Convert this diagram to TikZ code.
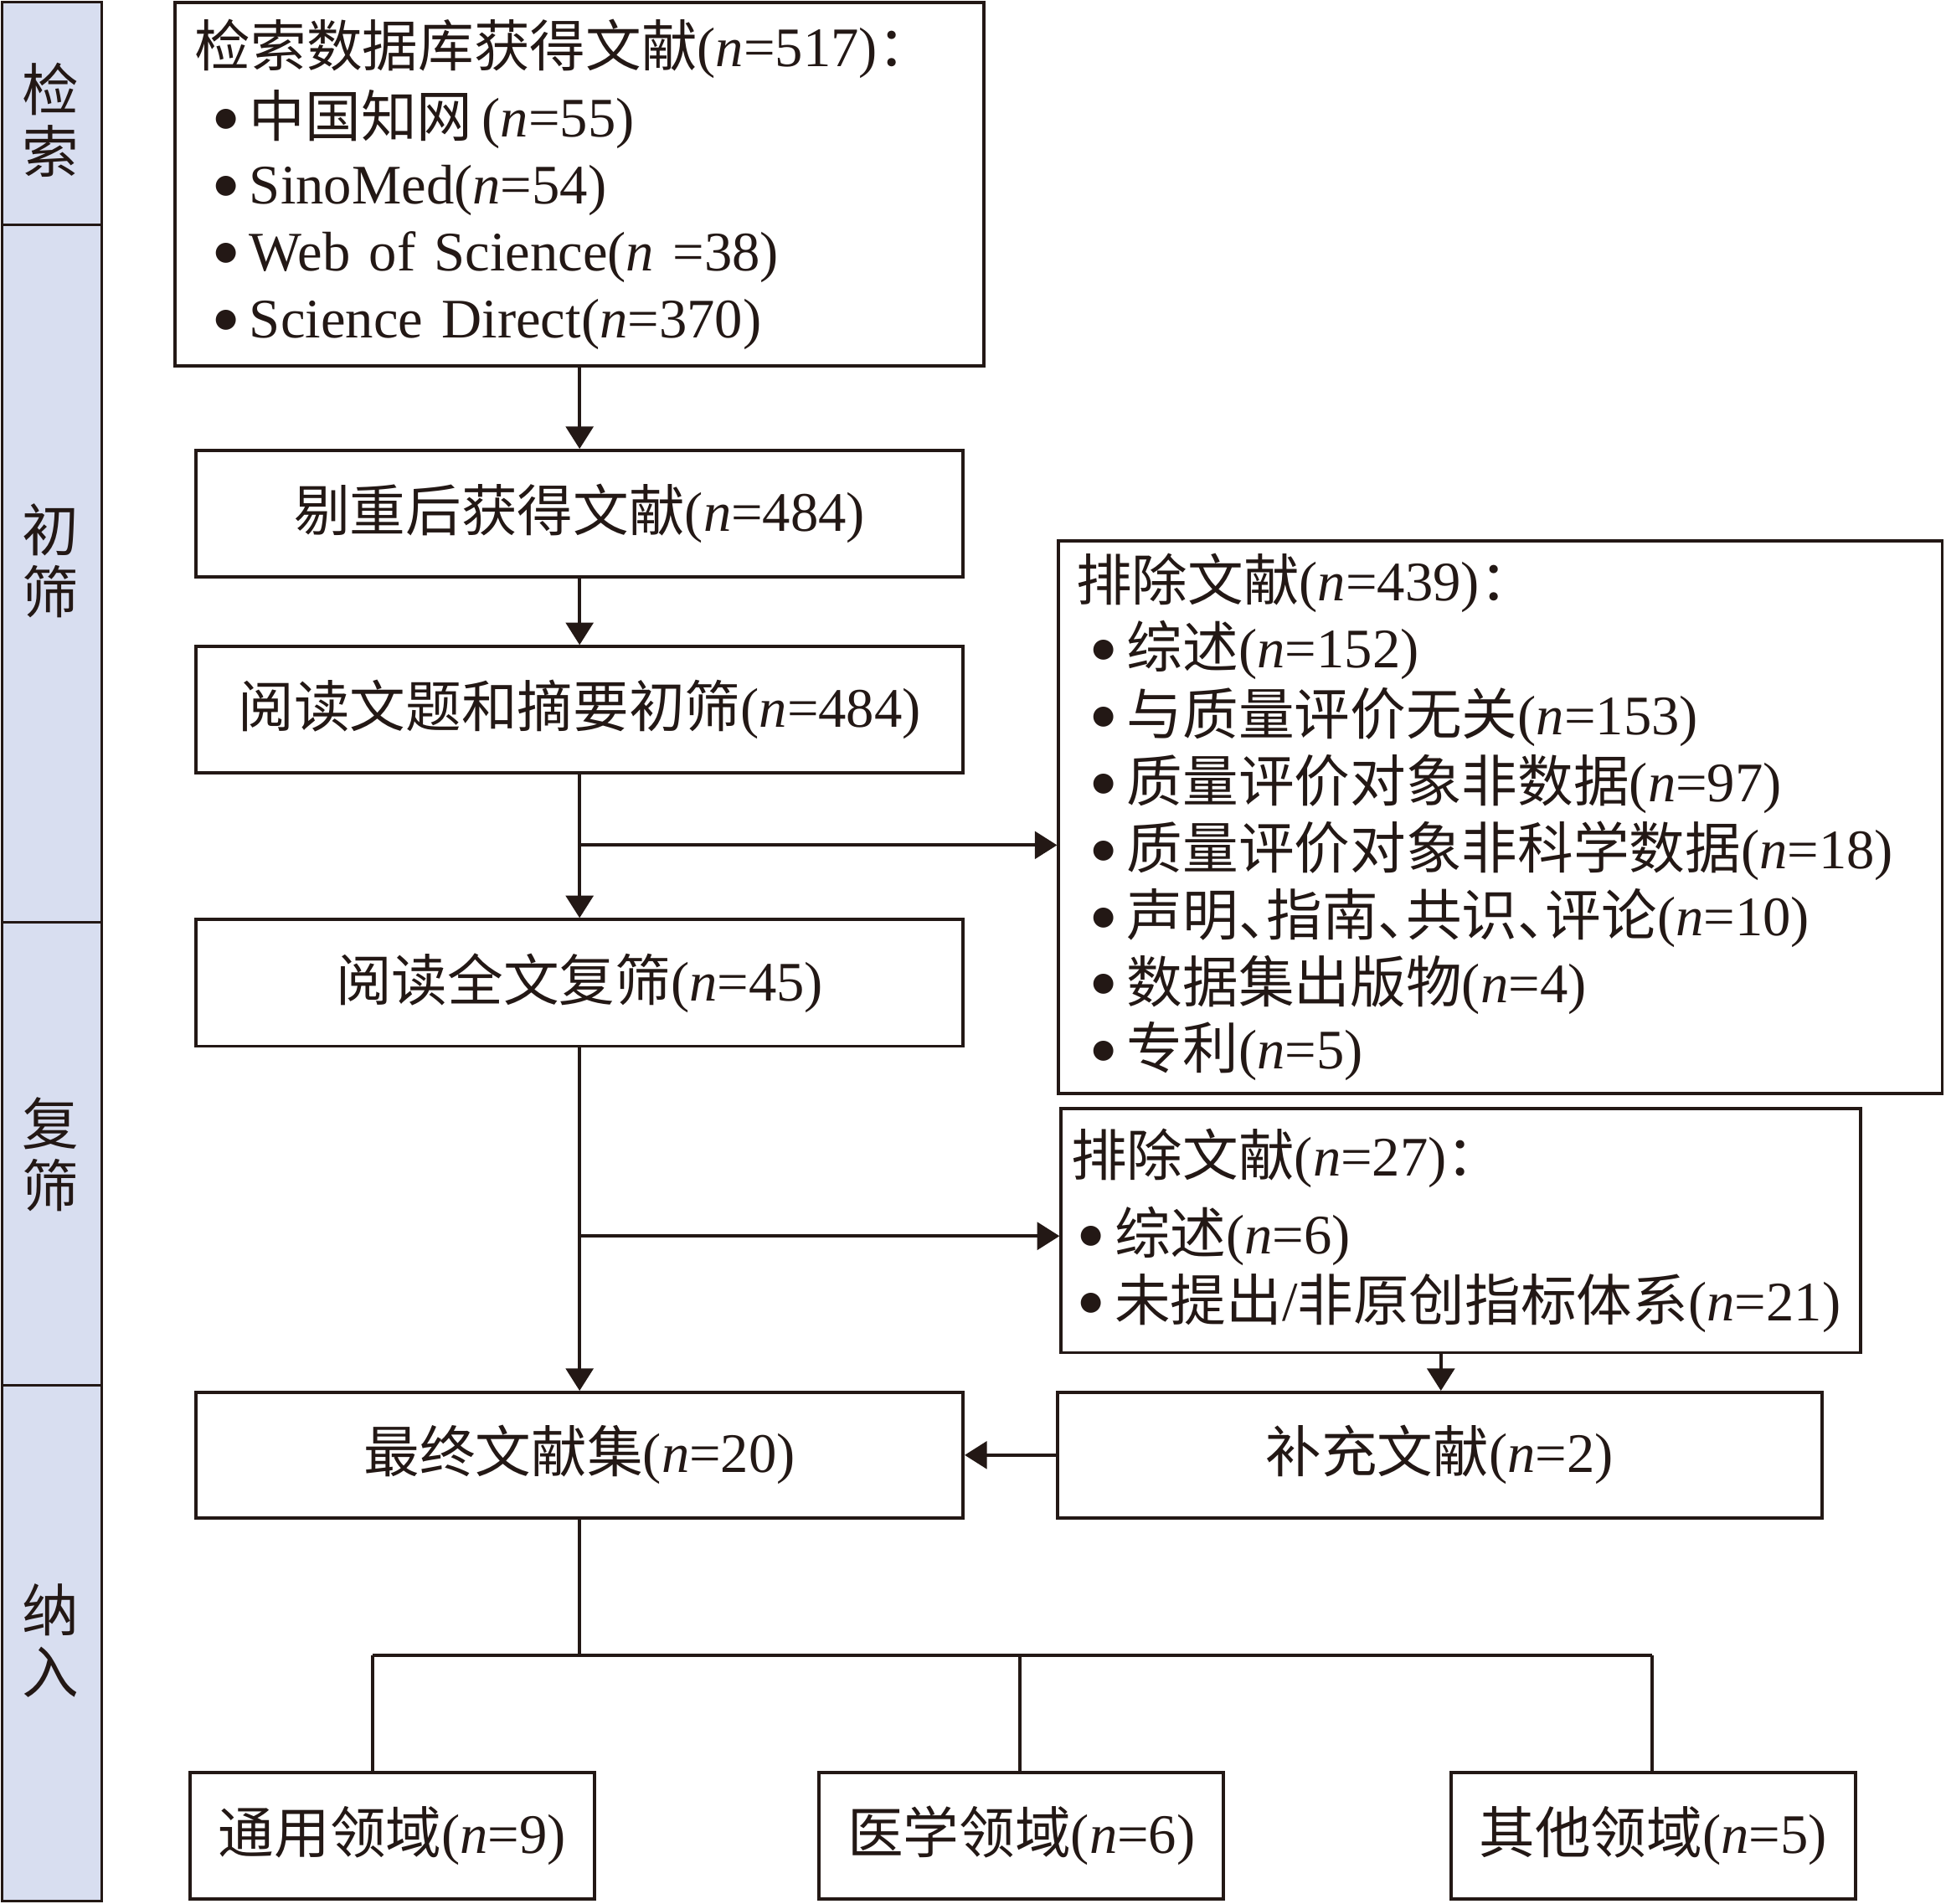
\documentclass[tikz,border=0pt]{standalone}
\usepackage{fontspec}
\setmainfont{Liberation Serif}
\newfontfamily\cjk{Noto Sans CJK SC}
\newfontfamily\dvs{DejaVu Sans}
\usetikzlibrary{arrows.meta,calc}
\definecolor{ink}{RGB}{35,24,21}
\definecolor{side}{RGB}{216,222,240}
\newcommand\vn{\textit{n}}
\newcommand\zh[1]{{\cjk #1}}
\newcommand\dun{\makebox[0.5em][l]{\cjk 、}}
\newcommand\bul[1]{\hspace*{#1}\makebox[0.56cm][l]{\raisebox{5pt}{\dvs\fontsize{12}{12}\selectfont ●}}}
\begin{document}
\begin{tikzpicture}[x=0.02cm,y=-0.02cm,color=ink,
  box/.style={draw, line width=1.5pt, minimum height=2.04cm, minimum width=12.36cm, inner sep=0pt, font=\fontsize{25.6}{30.7}\selectfont},
  listbox/.style={draw, line width=1.5pt, align=left, inner ysep=0pt, font=\fontsize{25.6}{30.7}\selectfont},
  arr/.style={line width=1.6pt, -{Triangle[length=0.36cm,width=0.44cm]}},
  link/.style={line width=1.5pt},
  sidelab/.style={align=center, font=\fontsize{26}{28.4}\selectfont\cjk}]
\useasboundingbox (0,0) rectangle (1568,1533.6);

% sidebar
\path[fill=side, draw=ink, line width=1.3pt] (1.5,1.5) rectangle (82,1532);
\draw[line width=1.2pt] (1.5,181) -- (82,181);
\draw[line width=1.2pt] (1.5,743) -- (82,743);
\draw[line width=1.2pt] (1.5,1116) -- (82,1116);
\node[sidelab] (s1) at (41,97) {检\\索};
\node[sidelab] (s2) at (41,452) {初\\筛};
\node[sidelab] (s3) at (41,930) {复\\筛};
\node[sidelab] (s4) at (41,1322) {纳\\入};

% boxes
\node[listbox, text width=12.4cm, inner xsep=0.32cm, minimum height=5.86cm] (search) at (467,148.5)
 {\zh{检索数据库获得文献}(\vn=517)\zh{：}\\[0.06cm]
  \bul{0.32cm}\zh{中国知网}\,(\vn=55)\\
  \bul{0.32cm}SinoMed(\vn=54)\\
  \bul{0.32cm}Web of Science(\vn{} =38)\\
  \bul{0.32cm}Science Direct(\vn=370)};
\node[box] (dedup) at (467,414) {\zh{剔重后获得文献}(\vn=484)};
\node[box] (scr1) at (467,572) {\zh{阅读文题和摘要初筛}(\vn=484)};
\node[listbox, text width=13.68cm, inner xsep=0.28cm, minimum height=8.9cm] (ex1) at (1209,658.5)
 {\zh{排除文献}(\vn=439)\zh{：}\\
  \bul{0.26cm}\zh{综述}(\vn=152)\\
  \bul{0.26cm}\zh{与质量评价无关}(\vn=153)\\
  \bul{0.26cm}\zh{质量评价对象非数据}(\vn=97)\\
  \bul{0.26cm}\zh{质量评价对象非科学数据}(\vn=18)\\
  \bul{0.26cm}\zh{声明}\dun\zh{指南}\dun\zh{共识}\dun\zh{评论}(\vn=10)\\
  \bul{0.26cm}\zh{数据集出版物}(\vn=4)\\
  \bul{0.26cm}\zh{专利}(\vn=5)};
\node[box] (scr2) at (467,792) {\zh{阅读全文复筛}(\vn=45)};
\node[listbox, text width=12.56cm, inner xsep=0.16cm, minimum height=3.94cm] (ex2) at (1177,991.5)
 {\zh{排除文献}(\vn=27)\zh{：}\\[0.18cm]
  \bul{0.14cm}\zh{综述}(\vn=6)\\
  \bul{0.14cm}\zh{未提出}/\zh{非原创指标体系}(\vn=21)};
\node[box, minimum height=2.02cm] (final) at (467,1172.5) {\zh{最终文献集}(\vn=20)};
\node[box, minimum width=12.32cm, minimum height=2.02cm] (supp) at (1160,1172.5) {\zh{补充文献}(\vn=2)};
\node[box, minimum width=6.52cm] (gen) at (316,1479) {\zh{通用领域}(\vn=9)};
\node[box, minimum width=6.52cm] (med) at (823,1479) {\zh{医学领域}(\vn=6)};
\node[box, minimum width=6.52cm] (oth) at (1332,1479) {\zh{其他领域}(\vn=5)};

% connectors
\coordinate (b1) at (467,681);
\coordinate (b2) at (467,996);
\coordinate (c2) at (1161,1000);
\coordinate (j0) at (467,1334);
\coordinate (j1) at (300,1334);
\coordinate (j2) at (822,1334);
\coordinate (j3) at (1331,1334);
\draw[arr] (search) -- (dedup);
\draw[arr] (dedup) -- (scr1);
\draw[arr] (scr1) -- (scr2);
\draw[arr] (b1) -- (b1 -| ex1.west);
\draw[arr] (scr2) -- (final);
\draw[arr] (b2) -- (b2 -| ex2.west);
\draw[arr] (ex2.south -| c2) -- (supp.north -| c2);
\draw[arr] (supp) -- (final);
\draw[link] (final) -- (j0);
\draw[link] (j1) -- (j3);
\draw[link] (j1) -- (j1 |- gen.north);
\draw[link] (j2) -- (j2 |- med.north);
\draw[link] (j3) -- (j3 |- oth.north);
\end{tikzpicture}
\end{document}
